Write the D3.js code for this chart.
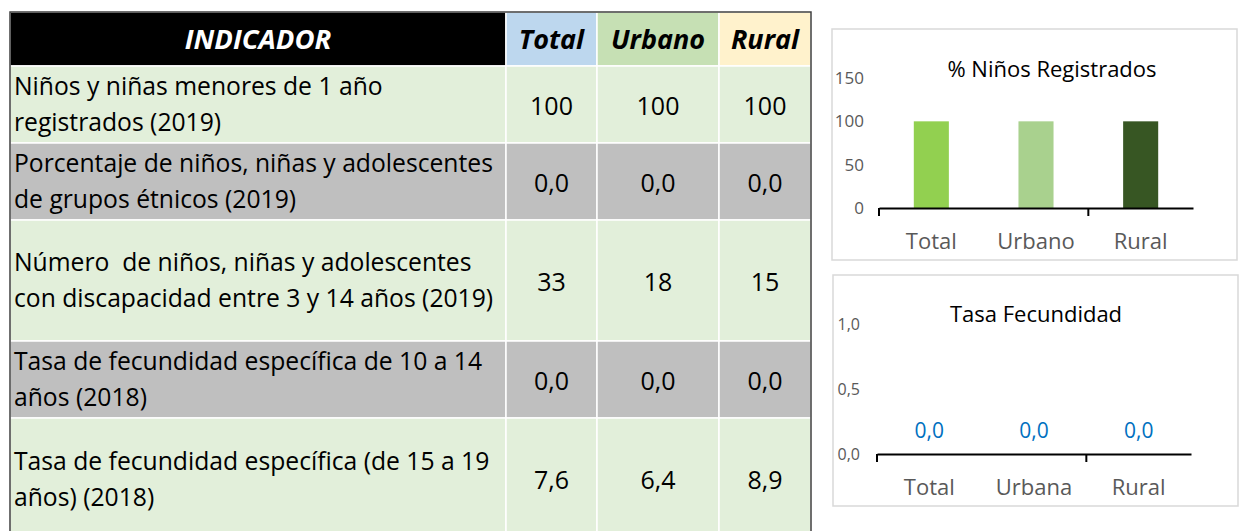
<!DOCTYPE html>
<html>
<head>
<meta charset="utf-8">
<script src="https://cdn.jsdelivr.net/npm/d3@7"></script>
<style>
  body { margin: 0; background: #fff; }
  svg { display: block; font-family: "Open Sans", Lato, sans-serif; }
</style>
</head>
<body>
<div id="main"></div>
<script>
// table data
var headers = ["Total", "Urbano", "Rural"];
var indicators = [
  ["Niños y niñas menores de 1 año", "registrados (2019)"],
  ["Porcentaje de niños, niñas y adolescentes", "de grupos étnicos (2019)"],
  ["Número  de niños, niñas y adolescentes", "con discapacidad entre 3 y 14 años (2019)"],
  ["Tasa de fecundidad específica de 10 a 14", "años (2018)"],
  ["Tasa de fecundidad específica (de 15 a 19", "años) (2018)"]
];
var totalValues = [100, 0.0, 33, 0.0, 7.6];
var urbanoValues = [100, 0.0, 18, 0.0, 6.4];
var ruralValues = [100, 0.0, 15, 0.0, 8.9];
var rowDecimals = [0, 1, 0, 1, 1];

// chart data
var regCategories = ["Total", "Urbano", "Rural"];
var regValues = [100, 100, 100];
var regTicks = [0, 50, 100, 150];
var fecCategories = ["Total", "Urbana", "Rural"];
var fecValues = [0.0, 0.0, 0.0];
var fecTicks = [0.0, 0.5, 1.0];

var esLocale = d3.formatLocale({decimal: ",", thousands: ".", grouping: [3], currency: ["$", ""]});

var dimensions = {
  width: 1257,
  height: 531
}

var SVG = d3.select("#main")
            .append("svg")
            .attr("width", dimensions.width)
            .attr("height", dimensions.height);

SVG.append("rect").attr("width", dimensions.width).attr("height", dimensions.height).attr("fill", "#fff");

// ---------- table ----------
var table = { left: 10, top: 12, right: 811 };
var colEdges = [10, 506, 597, 719, 811];
var rowEdges = [66, 143, 220, 341, 418, 540];
var headerFill = ["#000000", "#BDD7EE", "#C6E0B4", "#FFF2CC"];
var rowFill = ["#E2EFDA", "#BFBFBF", "#E2EFDA", "#BFBFBF", "#E2EFDA"];

var tbl = SVG.append("g");

// header cells
tbl.selectAll("rect.head")
   .data(headerFill)
   .enter()
   .append("rect")
   .attr("class", "head")
   .attr("x", function(d, i){ return colEdges[i]; })
   .attr("y", table.top)
   .attr("width", function(d, i){ return colEdges[i+1] - colEdges[i]; })
   .attr("height", rowEdges[0] - table.top)
   .attr("fill", function(d){ return d; })
   .attr("stroke", "#fff")
   .attr("stroke-width", 1.5);

tbl.append("text")
   .attr("x", (colEdges[0] + colEdges[1]) / 2)
   .attr("y", (table.top + rowEdges[0]) / 2)
   .attr("dy", "0.36em")
   .attr("text-anchor", "middle")
   .attr("fill", "#fff")
   .style("font-size", "27.5px")
   .style("font-weight", "bold")
   .style("font-style", "italic")
   .text("INDICADOR");

tbl.selectAll("text.colhead")
   .data(headers)
   .enter()
   .append("text")
   .attr("class", "colhead")
   .attr("x", function(d, i){ return (colEdges[i+1] + colEdges[i+2]) / 2; })
   .attr("y", (table.top + rowEdges[0]) / 2)
   .attr("dy", "0.36em")
   .attr("text-anchor", "middle")
   .attr("fill", "#000")
   .style("font-size", "27px")
   .style("font-weight", "bold")
   .style("font-style", "italic")
   .text(function(d){ return d; });

// body rows
var rows = tbl.selectAll("g.row")
              .data(indicators)
              .enter()
              .append("g")
              .attr("class", "row");

rows.each(function(lines, r){
  var g = d3.select(this);
  var y0 = rowEdges[r], y1 = rowEdges[r+1];
  var mid = (y0 + y1) / 2;
  for (var c = 0; c < 4; c++) {
    g.append("rect")
     .attr("x", colEdges[c])
     .attr("y", y0)
     .attr("width", colEdges[c+1] - colEdges[c])
     .attr("height", y1 - y0)
     .attr("fill", rowFill[r])
     .attr("stroke", "#fff")
     .attr("stroke-width", 1.5);
  }
  g.selectAll("text.lbl")
   .data(lines)
   .enter()
   .append("text")
   .attr("x", colEdges[0] + 4)
   .attr("y", function(d, i){ return mid + (i === 0 ? -18 : 18); })
   .attr("dy", "0.36em")
   .attr("fill", "#000")
   .style("font-size", "24.7px")
   .style("white-space", "pre")
   .text(function(d){ return d; });

  var vals = [totalValues[r], urbanoValues[r], ruralValues[r]];
  var fmt = esLocale.format("." + rowDecimals[r] + "f");
  g.selectAll("text.val")
   .data(vals)
   .enter()
   .append("text")
   .attr("x", function(d, i){ return (colEdges[i+1] + colEdges[i+2]) / 2; })
   .attr("y", mid + 1)
   .attr("dy", "0.36em")
   .attr("text-anchor", "middle")
   .attr("fill", "#000")
   .style("font-size", "25px")
   .text(function(d){ return fmt(d); });
});

// outer dark border lines
tbl.append("path")
   .attr("d", "M" + table.left + "," + dimensions.height + "V" + table.top + "H" + table.right + "V" + dimensions.height)
   .attr("fill", "none")
   .attr("stroke", "#404040")
   .attr("stroke-width", 1.5);

// ---------- chart helper ----------
function drawChart(opts) {
  var g = SVG.append("g");
  g.append("rect")
   .attr("x", opts.box[0]).attr("y", opts.box[1])
   .attr("width", opts.box[2]).attr("height", opts.box[3])
   .attr("fill", "#fff")
   .attr("stroke", "#D9D9D9")
   .attr("stroke-width", 1.5);

  g.append("text")
   .attr("x", opts.titleX)
   .attr("y", opts.titleY)
   .attr("text-anchor", "middle")
   .attr("fill", "#000")
   .style("font-size", "22px")
   .text(opts.title);

  var x = d3.scaleBand()
            .domain(opts.categories)
            .range(opts.xRange)
            .paddingInner(0.665)
            .paddingOuter(0.3325);

  var y = d3.scaleLinear()
            .domain(opts.yDomain)
            .range(opts.yRange);

  var yAxis = g.append("g")
               .attr("transform", "translate(" + opts.yLabelX + ",0)")
               .call(d3.axisLeft(y).tickValues(opts.ticks).tickSize(0).tickPadding(0).tickFormat(opts.tickFormat));
  yAxis.select(".domain").remove();
  yAxis.selectAll("text")
       .attr("fill", "#595959")
       .style("font-size", opts.tickFont)
       .style("font-family", "'Open Sans', sans-serif");

  g.selectAll("rect.bar")
   .data(opts.values)
   .enter()
   .append("rect")
   .attr("class", "bar")
   .attr("x", function(d, i){ return x(opts.categories[i]); })
   .attr("y", function(d){ return y(d); })
   .attr("width", x.bandwidth())
   .attr("height", function(d){ return y(0) - y(d); })
   .attr("fill", function(d, i){ return opts.colors[i]; });

  if (opts.showLabels) {
    g.selectAll("text.dlabel")
     .data(opts.values)
     .enter()
     .append("text")
     .attr("x", function(d, i){ return x(opts.categories[i]) + x.bandwidth() / 2; })
     .attr("y", function(d){ return y(d) - 24; })
     .attr("dy", "0.36em")
     .attr("text-anchor", "middle")
     .attr("fill", "#0070C0")
     .style("font-size", "21px")
     .text(function(d){ return opts.tickFormat(d); });
  }

  var xAxis = g.append("g")
               .attr("transform", "translate(0," + y(0) + ")")
               .call(d3.axisBottom(x).tickSize(0));
  xAxis.select(".domain").attr("stroke", "#000").attr("stroke-width", 2);
  xAxis.selectAll("text")
       .attr("fill", "#595959")
       .style("font-size", "22px")
       .style("font-family", "'Open Sans', sans-serif")
       .attr("y", 33)
       .attr("dy", "0.36em");

  // category tick marks between groups
  var step = x.step();
  var boundaries = [opts.xRange[0], opts.xRange[0] + step * 2];
  xAxis.selectAll("line.ctick")
       .data(boundaries)
       .enter()
       .append("line")
       .attr("class", "ctick")
       .attr("x1", function(d){ return d; })
       .attr("x2", function(d){ return d; })
       .attr("y1", 0)
       .attr("y2", 8)
       .attr("stroke", "#000")
       .attr("stroke-width", 2);
}

drawChart({
  box: [832, 29, 405, 231],
  title: "% Niños Registrados",
  titleX: 1052, titleY: 77,
  categories: regCategories,
  values: regValues,
  colors: ["#92D050", "#A9D18E", "#375623"],
  ticks: regTicks,
  tickFormat: d3.format("d"),
  tickFont: "17px",
  yDomain: [0, 150],
  yRange: [208, 78],
  xRange: [879, 1193],
  yLabelX: 864,
  showLabels: false
});

drawChart({
  box: [833, 275, 405, 231],
  title: "Tasa Fecundidad",
  titleX: 1036, titleY: 322,
  categories: fecCategories,
  values: fecValues,
  colors: ["#92D050", "#A9D18E", "#375623"],
  ticks: fecTicks,
  tickFormat: esLocale.format(".1f"),
  tickFont: "16px",
  yDomain: [0, 1],
  yRange: [454, 324],
  xRange: [877, 1191],
  yLabelX: 860,
  showLabels: true
});
</script>
</body>
</html>
